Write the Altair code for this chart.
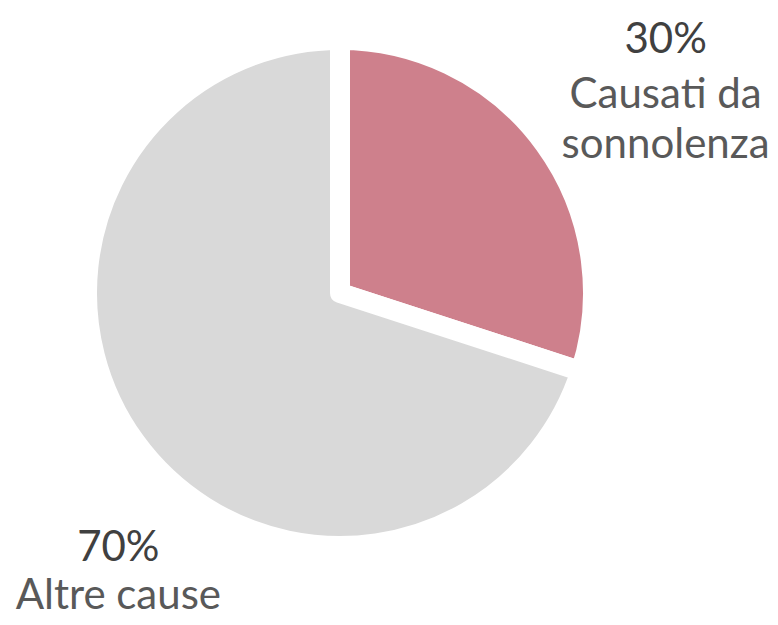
import altair as alt
import pandas as pd

categories = ["Causati da sonnolenza", "Altre cause"]
values = [30, 70]
pct_labels = ["30%", "70%"]
name_lines = [["Causati da", "sonnolenza"], ["Altre cause"]]
colors = ["#CE808C", "#D9D9D9"]

df = pd.DataFrame({
    "category": categories,
    "value": values,
    "pct": pct_labels,
    "name": name_lines,
    "order": list(range(len(categories))),
})

theta_scale = alt.Scale(domain=[0, 100])
color_scale = alt.Scale(domain=categories, range=colors)

base = alt.Chart(df)

arcs = base.mark_arc(
    outerRadius=253, stroke="white", strokeWidth=20, strokeJoin="round"
).encode(
    theta=alt.Theta("value:Q", stack=True, scale=theta_scale),
    color=alt.Color("category:N", scale=color_scale, legend=None),
    order=alt.Order("order:Q"),
)

lab = base.transform_window(
    cum="sum(value)", sort=[alt.SortField("order")]
).transform_calculate(
    mid="datum.cum - datum.value / 2"
)

FONT = "Lato"
SIZE = 42

def label_layer(cat, radius, dx, dy_pct, dy_name):
    src = lab.transform_filter(alt.datum.category == cat)
    pct = src.mark_text(
        radius=radius, font=FONT, fontSize=SIZE, color="#404040",
        align="center", baseline="alphabetic", dx=dx, dy=dy_pct,
    ).encode(
        theta=alt.Theta("mid:Q", scale=theta_scale, stack=False),
        text="pct:N",
    )
    nm = src.mark_text(
        radius=radius, font=FONT, fontSize=SIZE, color="#595959",
        align="center", baseline="alphabetic", dx=dx, dy=dy_name,
        lineHeight=50,
    ).encode(
        theta=alt.Theta("mid:Q", scale=theta_scale, stack=False),
        text="name",
    )
    return [pct, nm]

layers = [arcs]
layers += label_layer(categories[0], 400, 2, -5, 50)
layers += label_layer(categories[1], 274, 0, 107, 155)

chart = alt.layer(*layers).properties(
    width=664, height=570,
    autosize=alt.AutoSizeParams(type="none"),
    padding={"left": 0, "top": 0, "right": 98, "bottom": 39},
).configure_view(stroke=None)

chart.save("out.html", embed_options={"renderer": "svg", "actions": False})
